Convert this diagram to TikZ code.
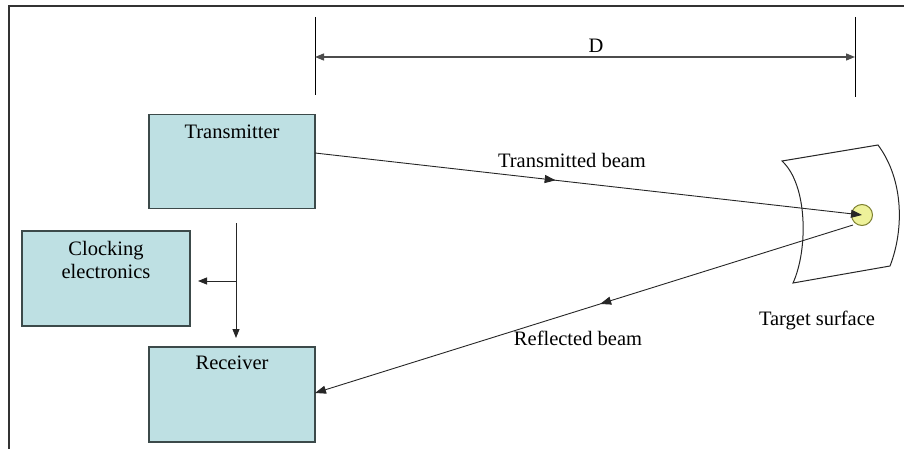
\documentclass[tikz,border=0pt]{standalone}
\usepackage{fontspec}
\setmainfont{Liberation Serif}
\usetikzlibrary{arrows.meta,decorations.markings}
\definecolor{boxfill}{HTML}{BEE0E3}
\definecolor{boxline}{HTML}{3C4A4A}
\definecolor{dotfill}{HTML}{EEF29A}
\definecolor{dotline}{HTML}{7D8030}
\tikzset{
  blk/.style={draw=boxline, line width=1.1pt, fill=boxfill, minimum width=166pt, minimum height=94pt, inner sep=0pt},
  lbl/.style={font=\fontsize{20.5}{23}\selectfont, inner sep=0pt},
  conn/.style={draw=black!85, line width=0.9pt},
  tip/.style={-{Triangle[length=9pt,width=7pt]}},
  midarrow/.style={postaction={decorate},decoration={markings,mark=at position #1 with {\arrow{Triangle[length=11pt,width=8pt]}}}}
}
\begin{document}
\begin{tikzpicture}[x=1pt,y=-1pt]
\useasboundingbox (0,0) rectangle (904,449);
% frame
\draw[line width=1.3pt, black!80] (9,449) -- (9,6) -- (904,6);

% boxes
\node[blk] (tx) at (232,161.5) {};
\node[lbl, anchor=north] at (232,125) {Transmitter};
\node[blk, minimum width=168pt, minimum height=95pt] (clk) at (106,278.5) {};
\node[lbl, align=center, anchor=north] at (106,241) {Clocking\\electronics};
\node[blk, minimum height=95pt] (rx) at (232,394.5) {};
\node[lbl, anchor=north] at (232,356) {Receiver};

% tx -> rx / clocking
\coordinate (vtop) at (236,223);
\coordinate (vbot) at (236,338);
\coordinate (br) at (236,281);
\coordinate (clkin) at (198,281);
\draw[conn, tip] (vtop) -- (vbot);
\draw[conn, tip] (br) -- (clkin);

% dimension
\coordinate (d1t) at (315,17);
\coordinate (d1b) at (315,95);
\coordinate (d2t) at (855,17);
\coordinate (d2b) at (855,97);
\draw[line width=0.8pt] (d1t) -- (d1b);
\draw[line width=0.8pt] (d2t) -- (d2b);
\coordinate (da) at (315,57);
\coordinate (db) at (855,57);
\draw[line width=1.3pt, black!70, {Triangle[length=9pt,width=7pt]}-{Triangle[length=9pt,width=7pt]}] (da) -- (db);
\node[lbl] (D) at (596,46) {D};

% target surface
\draw[line width=1pt, black!85] (782,161) .. controls (808,185) and (808,250) .. (793,283)
  -- (890,266) .. controls (904,230) and (904,180) .. (878,145) -- cycle;
\node[draw=dotline, fill=dotfill, line width=1pt, circle, minimum size=21pt, inner sep=0pt] (dot) at (862,215) {};
\node[lbl] at (817,320) {Target surface};

% beams
\coordinate (txout) at (315,153);
\coordinate (rxin) at (315,393);
\coordinate (refl) at (853,225);
\draw[conn, midarrow=0.44, -{Triangle[length=11pt,width=8pt]}] (txout) -- (dot.center);
\draw[conn, midarrow=0.47, -{Triangle[length=11pt,width=8pt]}] (refl) -- (rxin);
\node[lbl] at (572,160) {Transmitted beam};
\node[lbl] at (578,338) {Reflected beam};
\end{tikzpicture}
\end{document}
